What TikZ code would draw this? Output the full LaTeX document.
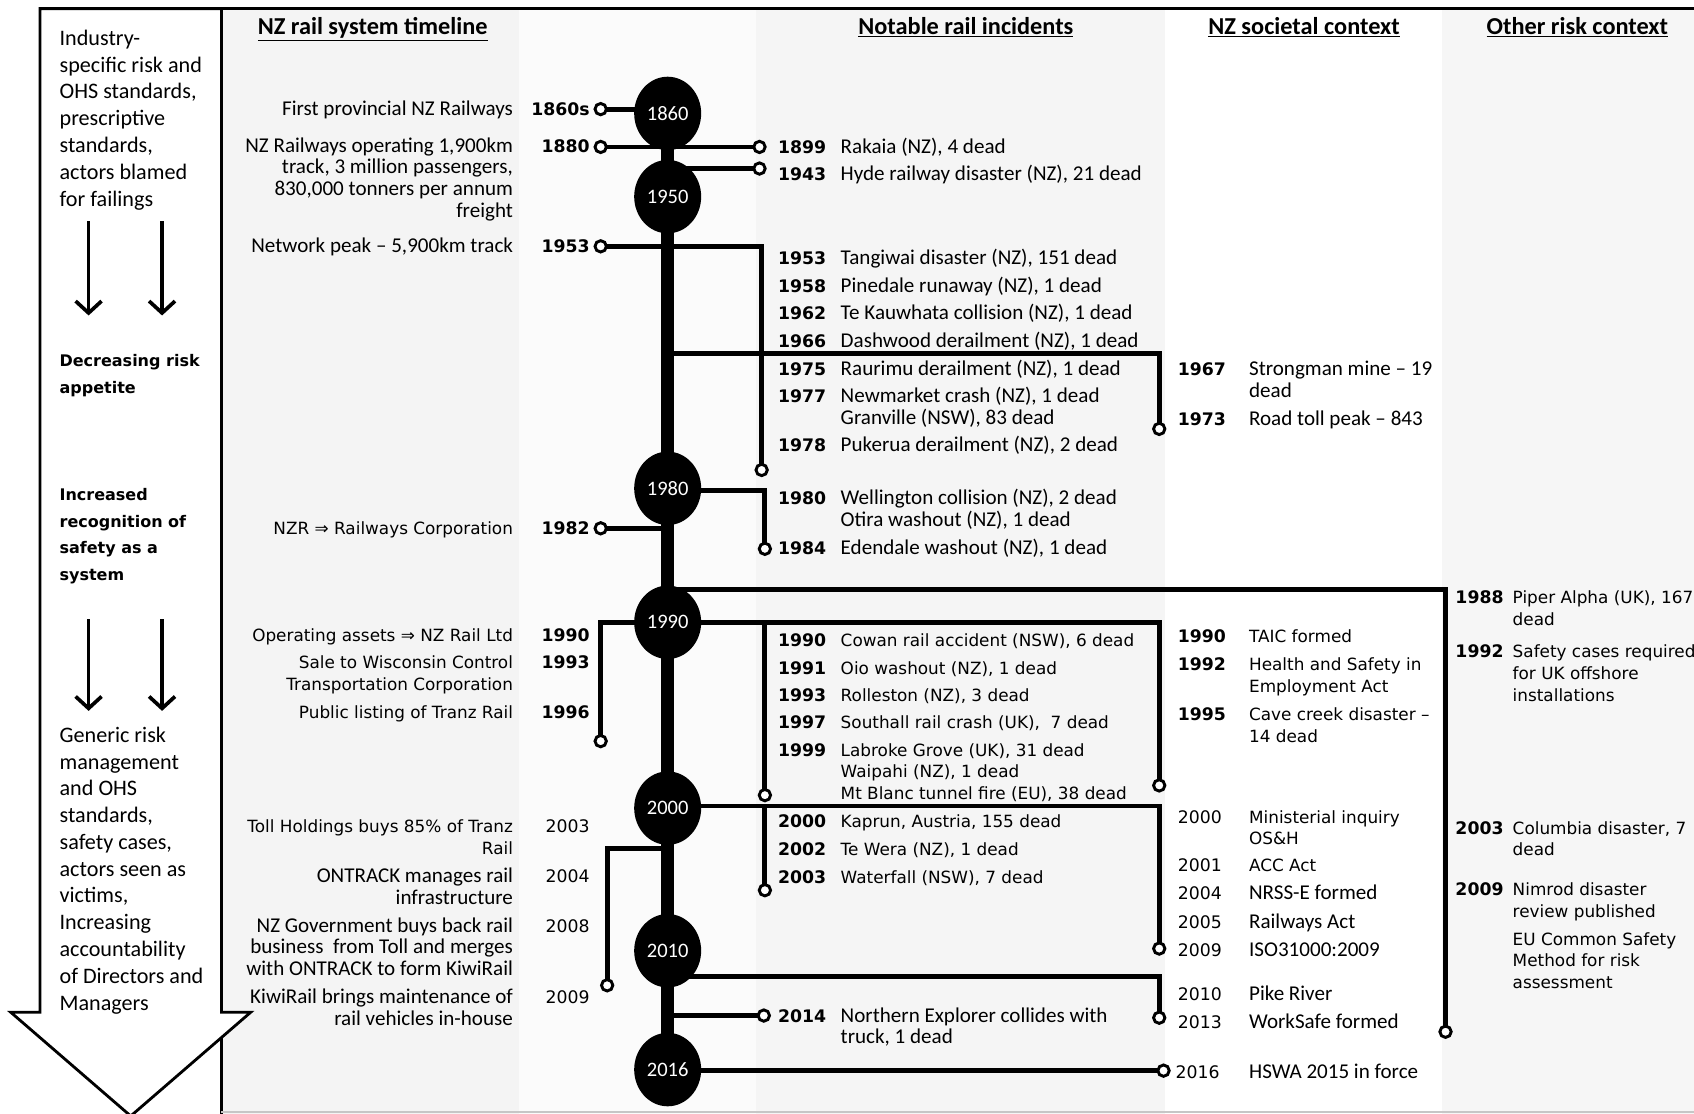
\documentclass[tikz,border=0pt]{standalone}
\usepackage{fontspec}
\setmainfont{Carlito}
\newfontfamily\tah{DejaVu Sans}
\usetikzlibrary{arrows.meta,shapes.geometric}
\begin{document}
\begin{tikzpicture}[x=1pt,y=-1pt,
  conn/.style={line width=4.5pt},
  spine/.style={line width=12pt},
  frame/.style={line width=2.6pt},
  oc/.style={circle, draw, line width=2.7pt, fill=white, minimum size=10.5pt, inner sep=0},
  yrell/.style={ellipse, fill=black, text=white, minimum width=62pt, minimum height=68pt, inner sep=0, font=\fontsize{19}{20}\selectfont},
  ta/.style={inner sep=0, font=\fontsize{19.5}{20}\selectfont},
  tb/.style={inner sep=0, font=\tah\fontsize{15.6}{20}\selectfont},
  yb/.style={inner sep=0, font=\tah\bfseries\fontsize{16}{20}\selectfont},
  yn/.style={inner sep=0, font=\tah\fontsize{16}{20}\selectfont},
  txl/.style={anchor=base east, align=right},
  txr/.style={anchor=base west, align=left},
  hd/.style={inner sep=0, anchor=base, font=\bfseries\fontsize{22.5}{24}\selectfont},
  lp/.style={inner sep=0, anchor=base west, align=left, font=\fontsize{20.5}{24.8}\selectfont},
  lpb/.style={inner sep=0, anchor=base west, align=left, font=\tah\bfseries\fontsize{14.8}{24.8}\selectfont},
  darr/.style={line width=3.4pt, -{Straight Barb[length=11pt,width=24pt]}}
]
\useasboundingbox (0,0) rectangle (1568,1031);
\clip (0,0) rectangle (1568,1031);
% backgrounds
\fill[white] (0,0) rectangle (1568,1031);
\fill[gray!9] (205,8) rectangle (480,1031);
\fill[gray!3] (480,8) rectangle (700,1031);
\fill[gray!8] (700,8) rectangle (1078,1031);
\fill[gray!7] (1335,8) rectangle (1568,1031);
% main frame
\coordinate (fTL) at (205,8);
\coordinate (fTR) at (1568,8);
\coordinate (fBL) at (205,1031);
\draw[frame] (fBL) -- (fTL) -- (fTR);
\draw[gray!45, line width=2pt] (205,1029) -- (1568,1029);
% left block arrow
\draw[frame, fill=white, line join=miter] (37,8) -- (205,8) -- (205,937) -- (232,937) -- (121,1033) -- (10,937) -- (37,937) -- cycle;
\coordinate (a1s) at (82,205); \coordinate (a1e) at (82,292);
\coordinate (a2s) at (150,205); \coordinate (a2e) at (150,292);
\coordinate (a3s) at (82,573); \coordinate (a3e) at (82,658);
\coordinate (a4s) at (150,573); \coordinate (a4e) at (150,658);
\draw[darr] (a1s) -- (a1e);
\draw[darr] (a2s) -- (a2e);
\draw[darr] (a3s) -- (a3e);
\draw[darr] (a4s) -- (a4e);
% left panel texts (anchor = baseline of last line)
\node[lp] (lpA) at (55,190.8) {Industry-\\specific risk and\\OHS standards,\\prescriptive\\standards,\\actors blamed\\for failings};
\node[lpb] (lpB) at (55,363.8) {Decreasing risk\\appetite};
\node[lpb] (lpC) at (55,537.4) {Increased\\recognition of\\safety as a\\system};
\node[lp] (lpD) at (55,935) {Generic risk\\management\\and OHS\\standards,\\safety cases,\\actors seen as\\victims,\\Increasing\\accountability\\of Directors and\\Managers};
% headers
\node[hd] (h1) at (345,32) {\underline{NZ rail system timeline}};
\node[hd] (h2) at (894,32) {\underline{Notable rail incidents}};
\node[hd] (h3) at (1207,32) {\underline{NZ societal context}};
\node[hd] (h4) at (1460,32) {\underline{Other risk context}};
% spine
\coordinate (sp) at (618,0);
\coordinate (sTop) at (618,100);
\coordinate (sBot) at (618,990);
\draw[spine] (sTop) -- (sBot);
% connector end points
\coordinate (o1860) at (556,101);
\coordinate (o1880) at (556,136);
\coordinate (o1899) at (703,136);
\coordinate (o1943) at (703,156);
\coordinate (o1953) at (556,228);
\coordinate (d1953) at (705,435);
\coordinate (j1966) at (618,327);
\coordinate (d1966) at (1073,397);
\coordinate (j1980) at (618,454);
\coordinate (d1980) at (708,508);
\coordinate (o1982) at (556,489);
\coordinate (j1988) at (618,546);
\coordinate (d1988) at (1338,955);
\coordinate (j1990) at (618,576);
\coordinate (d1990L) at (556,686);
\coordinate (d1990R) at (1073,727);
\coordinate (d1990B) at (708,736);
\coordinate (j2000) at (618,746);
\coordinate (d2000R) at (1073,878);
\coordinate (d2000B) at (708,824);
\coordinate (j2000L) at (618,785);
\coordinate (d2000L) at (562,912);
\coordinate (j2010) at (618,904);
\coordinate (d2010) at (1073,942);
\coordinate (o2014) at (707,940);
\coordinate (o2016) at (1077,991);
% connectors
\draw[conn] (o1860) -- (o1860 -| sp);
\draw[conn] (o1880) -- (o1899);
\draw[conn] (o1943 -| sp) -- (o1943);
\draw[conn] (o1953) -| (d1953);
\draw[conn] (j1966) -| (d1966);
\draw[conn] (j1980) -| (d1980);
\draw[conn] (o1982) -- (o1982 -| sp);
\draw[conn] (j1988) -| (d1988);
\draw[conn] (j1990) -| (d1990L);
\draw[conn] (j1990) -| (d1990R);
\draw[conn] (j1990 -| d1990B) -- (d1990B);
\draw[conn] (j2000) -| (d2000R);
\draw[conn] (j2000 -| d2000B) -- (d2000B);
\draw[conn] (j2000L) -| (d2000L);
\draw[conn] (j2010) -| (d2010);
\draw[conn] (o2014 -| sp) -- (o2014);
\draw[conn] (o2016 -| sp) -- (o2016);
% decade ellipses
\node[yrell] (e1860) at (618,105) {1860};
\node[yrell] (e1950) at (618,182) {1950};
\node[yrell] (e1980) at (618,452) {1980};
\node[yrell] (e1990) at (618,576) {1990};
\node[yrell] (e2000) at (618,748) {2000};
\node[yrell] (e2010) at (618,880) {2010};
\node[yrell] (e2016) at (618,990) {2016};
% open circles
\foreach \p in {o1860,o1880,o1899,o1943,o1953,d1953,d1966,d1980,o1982,d1988,d1990L,d1990R,d1990B,d2000R,d2000B,d2000L,d2010,o2014,o2016}
  \node[oc] (c\p) at (\p) {};
% timeline column texts
\node[ta,txl] (t1860) at (475,107) {First provincial NZ Railways};
\node[ta,txl] (t1880) at (475,201) {NZ Railways operating 1,900km\\track, 3 million passengers,\\830,000 tonners per annum\\freight};
\node[ta,txl] (t1953) at (475,234) {Network peak – 5,900km track};
\node[tb,txl] (t1982) at (475,495) {NZR ⇒ Railways Corporation};
\node[tb,txl] (t1990) at (475,594) {Operating assets ⇒ NZ Rail Ltd};
\node[tb,txl] (t1993) at (475,639) {Sale to Wisconsin Control\\Transportation Corporation};
\node[tb,txl] (t1996) at (475,665) {Public listing of Tranz Rail};
\node[tb,txl] (t2003) at (475,791) {Toll Holdings buys 85\% of Tranz\\Rail};
\node[ta,txl] (t2004) at (475,837) {ONTRACK manages rail\\infrastructure};
\node[ta,txl] (t2008) at (475,903) {NZ Government buys back rail\\business~ from Toll and merges\\with ONTRACK to form KiwiRail};
\node[ta,txl] (t2009) at (475,949) {KiwiRail brings maintenance of\\rail vehicles in-house};
\node[yb,txl] (y1860) at (546,107) {1860s};
\node[yb,txl] (y1880) at (546,141) {1880};
\node[yb,txl] (y1953) at (546,234) {1953};
\node[yb,txl] (y1982) at (546,495) {1982};
\node[yb,txl] (y1990) at (546,594) {1990};
\node[yb,txl] (y1993) at (546,619) {1993};
\node[yb,txl] (y1996) at (546,665) {1996};
\node[yn,txl] (y2003) at (546,771) {2003};
\node[yn,txl] (y2004) at (546,817) {2004};
\node[yn,txl] (y2008) at (546,863) {2008};
\node[yn,txl] (y2009) at (546,929) {2009};
% incidents
\foreach \yy/\yv in {1899/142,1943/167,1953/245,1958/271,1962/296,1966/322,1975/348,1977/373,1978/418,1980/467,1984/513,1990/598,1991/624,1993/649,1997/674,1999/700,2000/766,2002/792,2003/818,2014/946}
  \node[yb,txr] (iy\yy) at (720,\yv) {\yy};
\node[ta,txr] (i1899) at (778,142) {Rakaia (NZ), 4 dead};
\node[ta,txr] (i1943) at (778,167) {Hyde railway disaster (NZ), 21 dead};
\node[ta,txr] (i1953) at (778,245) {Tangiwai disaster (NZ), 151 dead};
\node[ta,txr] (i1958) at (778,271) {Pinedale runaway (NZ), 1 dead};
\node[ta,txr] (i1962) at (778,296) {Te Kauwhata collision (NZ), 1 dead};
\node[ta,txr] (i1966) at (778,322) {Dashwood derailment (NZ), 1 dead};
\node[ta,txr] (i1975) at (778,348) {Raurimu derailment (NZ), 1 dead};
\node[ta,txr] (i1977) at (778,393) {Newmarket crash (NZ), 1 dead\\Granville (NSW), 83 dead};
\node[ta,txr] (i1978) at (778,418) {Pukerua derailment (NZ), 2 dead};
\node[ta,txr] (i1980) at (778,487) {Wellington collision (NZ), 2 dead\\Otira washout (NZ), 1 dead};
\node[ta,txr] (i1984) at (778,513) {Edendale washout (NZ), 1 dead};
\node[tb,txr] (i1990) at (778,598) {Cowan rail accident (NSW), 6 dead};
\node[tb,txr] (i1991) at (778,624) {Oio washout (NZ), 1 dead};
\node[tb,txr] (i1993) at (778,649) {Rolleston (NZ), 3 dead};
\node[tb,txr] (i1997) at (778,674) {Southall rail crash (UK),~ 7 dead};
\node[tb,txr] (i1999) at (778,740) {Labroke Grove (UK), 31 dead\\Waipahi (NZ), 1 dead\\Mt Blanc tunnel fire (EU), 38 dead};
\node[tb,txr] (i2000) at (778,766) {Kaprun, Austria, 155 dead};
\node[tb,txr] (i2002) at (778,792) {Te Wera (NZ), 1 dead};
\node[tb,txr] (i2003) at (778,818) {Waterfall (NSW), 7 dead};
\node[ta,txr] (i2014) at (778,966) {Northern Explorer collides with\\truck, 1 dead};
% societal
\node[yb,txr] (sy1967) at (1090,348) {1967};
\node[yb,txr] (sy1973) at (1090,394) {1973};
\node[yb,txr] (sy1990) at (1090,595) {1990};
\node[yb,txr] (sy1992) at (1090,621) {1992};
\node[yb,txr] (sy1995) at (1090,667) {1995};
\node[yn,txr] (sy2000) at (1090,762) {2000};
\node[yn,txr] (sy2001) at (1090,807) {2001};
\node[yn,txr] (sy2004) at (1090,833) {2004};
\node[yn,txr] (sy2005) at (1090,859) {2005};
\node[yn,txr] (sy2009) at (1090,885) {2009};
\node[yn,txr] (sy2010) at (1090,926) {2010};
\node[yn,txr] (sy2013) at (1090,952) {2013};
\node[yn,txr] (sy2016) at (1088,998) {2016};
\node[ta,txr] (s1967) at (1156,368) {Strongman mine – 19\\dead};
\node[ta,txr] (s1973) at (1156,394) {Road toll peak – 843};
\node[tb,txr] (s1990) at (1156,595) {TAIC formed};
\node[tb,txr] (s1992) at (1156,641) {Health and Safety in\\Employment Act};
\node[tb,txr] (s1995) at (1156,687) {Cave creek disaster –\\14 dead};
\node[tb,txr] (s2000) at (1156,782) {Ministerial inquiry\\OS\&H};
\node[tb,txr] (s2001) at (1156,807) {ACC Act};
\node[ta,txr] (s2004) at (1156,833) {NRSS-E formed};
\node[ta,txr] (s2005) at (1156,859) {Railways Act};
\node[ta,txr] (s2009) at (1156,885) {ISO31000:2009};
\node[ta,txr] (s2010) at (1156,926) {Pike River};
\node[ta,txr] (s2013) at (1156,952) {WorkSafe formed};
\node[ta,txr] (s2016) at (1156,998) {HSWA 2015 in force};
% other risk context
\node[yb,txr] (oy1988) at (1347,559) {1988};
\node[yb,txr] (oy1992) at (1347,609) {1992};
\node[yb,txr] (oy2003) at (1347,772) {2003};
\node[yb,txr] (oy2009) at (1347,829) {2009};
\node[tb,txr] (r1988) at (1400,579) {Piper Alpha (UK), 167\\dead};
\node[tb,txr] (r1992) at (1400,649) {Safety cases required\\for UK offshore\\installations};
\node[tb,txr] (r2003) at (1400,792) {Columbia disaster, 7\\dead};
\node[tb,txr] (r2009) at (1400,849) {Nimrod disaster\\review published};
\node[tb,txr] (r2009b) at (1400,915) {EU Common Safety\\Method for risk\\assessment};
\end{tikzpicture}
\end{document}
